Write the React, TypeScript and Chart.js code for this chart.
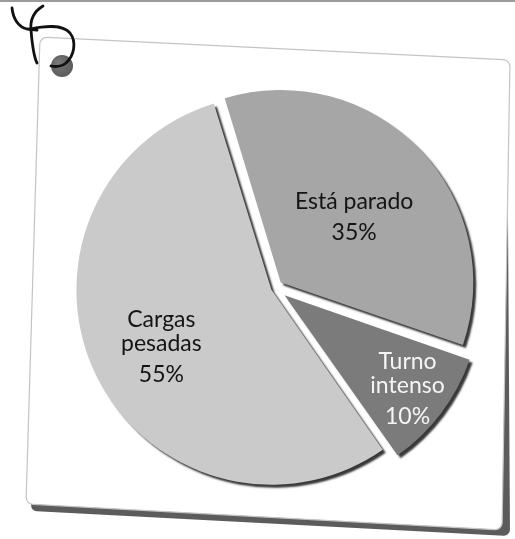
import { useEffect, useRef } from "react";
import { Chart, registerables } from "chart.js";

Chart.register(...registerables);

const categories = ["Está parado", "Turno intenso", "Cargas pesadas"];
const labelLines = [["Está parado"], ["Turno", "intenso"], ["Cargas", "pesadas"]];
const values = [35, 10, 55];

const sliceColors = ["#a6a6a6", "#7b7b7b", "#cacaca"];
const sliceOffsets = [32, 48, 16];
const textColors = ["#141414", "#f5f5f5", "#141414"];
const labelDistance = [0.534, 0.806, 0.641];
const labelNudgeY = [5, 1, 4];

type Pt = [number, number];

function roundedPoly(ctx: CanvasRenderingContext2D, pts: Pt[], r: number) {
  ctx.beginPath();
  const n = pts.length;
  for (let i = 0; i < n; i++) {
    const p0 = pts[(i - 1 + n) % n];
    const p1 = pts[i];
    const p2 = pts[(i + 1) % n];
    const m1: Pt = [(p0[0] + p1[0]) / 2, (p0[1] + p1[1]) / 2];
    if (i === 0) ctx.moveTo(m1[0], m1[1]);
    ctx.arcTo(p1[0], p1[1], p2[0], p2[1], r);
  }
  ctx.closePath();
}

const cardPlugin = {
  id: "card",
  beforeDraw(chart: any) {
    const ctx: CanvasRenderingContext2D = chart.ctx;
    ctx.save();
    ctx.fillStyle = "#ffffff";
    ctx.fillRect(0, 0, chart.width, chart.height);
    ctx.fillStyle = "#9c9c9c";
    ctx.fillRect(0, 0, chart.width, 2);
    // card shadow
    roundedPoly(ctx, [[40, 40], [507, 62], [510, 536], [31, 511]], 6);
    ctx.fillStyle = "#5c5c5c";
    ctx.fill();
    // card
    roundedPoly(ctx, [[40, 37], [510, 60], [502, 530], [26, 504]], 7);
    ctx.fillStyle = "#ffffff";
    ctx.fill();
    ctx.lineWidth = 1.2;
    ctx.strokeStyle = "#c4c4c4";
    ctx.stroke();
    ctx.restore();
  },
  afterDraw(chart: any) {
    const ctx: CanvasRenderingContext2D = chart.ctx;
    ctx.save();
    const g = ctx.createRadialGradient(58, 62, 2, 62, 66, 12);
    g.addColorStop(0, "#777777");
    g.addColorStop(1, "#595959");
    ctx.beginPath();
    ctx.arc(62, 66, 11, 0, Math.PI * 2);
    ctx.fillStyle = g;
    ctx.fill();
    ctx.strokeStyle = "#111";
    ctx.lineWidth = 2.8;
    ctx.lineCap = "round";
    ctx.lineJoin = "round";
    ctx.beginPath();
    ctx.moveTo(12, 8);
    ctx.bezierCurveTo(13, 18, 18, 27, 27, 29);
    ctx.lineTo(37, 30);
    ctx.stroke();
    ctx.beginPath();
    ctx.moveTo(43, 6);
    ctx.bezierCurveTo(33, 12, 30, 20, 31, 30);
    ctx.bezierCurveTo(32, 42, 33, 55, 37, 63);
    ctx.stroke();
    ctx.beginPath();
    ctx.moveTo(30, 29);
    ctx.bezierCurveTo(45, 26, 62, 24, 70, 33);
    ctx.bezierCurveTo(77, 42, 74, 56, 66, 63);
    ctx.bezierCurveTo(61, 67, 56, 67, 51, 66);
    ctx.stroke();
    ctx.restore();
  },
};

const pieDecorPlugin = {
  id: "pieDecor",
  beforeDatasetsDraw(chart: any) {
    const ctx: CanvasRenderingContext2D = chart.ctx;
    ctx.save();
    ctx.shadowColor = "rgba(45,45,45,0.95)";
    ctx.shadowOffsetX = 3;
    ctx.shadowOffsetY = 3;
    ctx.shadowBlur = 2;
  },
  afterDatasetsDraw(chart: any) {
    const ctx: CanvasRenderingContext2D = chart.ctx;
    ctx.restore();
    const meta = chart.getDatasetMeta(0);
    ctx.save();
    ctx.font = "23px Lato";
    ctx.textAlign = "center";
    ctx.textBaseline = "middle";
    meta.data.forEach((el: any, i: number) => {
      const mid = (el.startAngle + el.endAngle) / 2;
      const d = sliceOffsets[i] / 4 + labelDistance[i] * el.outerRadius;
      const cx = el.x + Math.cos(mid) * d;
      const cy = el.y + Math.sin(mid) * d + labelNudgeY[i];
      const lines = [...labelLines[i], values[i] + "%"];
      const ys: number[] = [];
      let y = 0;
      lines.forEach((_, k) => {
        if (k > 0) y += k === lines.length - 1 ? 31 : 24;
        ys.push(y);
      });
      const top = cy - y / 2;
      ctx.fillStyle = textColors[i];
      lines.forEach((t, k) => ctx.fillText(t, cx, top + ys[k]));
    });
    ctx.restore();
  },
};

export default function App() {
  const ref = useRef<HTMLCanvasElement | null>(null);
  useEffect(() => {
    if (!ref.current) return;
    const chart = new Chart(ref.current, {
      type: "pie",
      data: {
        labels: categories,
        datasets: [
          {
            data: values,
            backgroundColor: sliceColors,
            borderWidth: 0,
            offset: sliceOffsets,
          },
        ],
      },
      options: {
        responsive: false,
        animation: false,
        rotation: -17,
        radius: 191,
        layout: { padding: { left: 35, right: 0, top: 37, bottom: 0 } },
        plugins: {
          legend: { display: false },
          tooltip: { enabled: false },
        },
        events: [],
      },
      plugins: [cardPlugin, pieDecorPlugin],
    } as any);
    return () => chart.destroy();
  }, []);
  return (
    <div style={{ position: "fixed", left: 0, top: 0, width: 515, height: 539, background: "#fff" }}>
      <canvas ref={ref} width={515} height={539} style={{ display: "block" }} />
    </div>
  );
}
